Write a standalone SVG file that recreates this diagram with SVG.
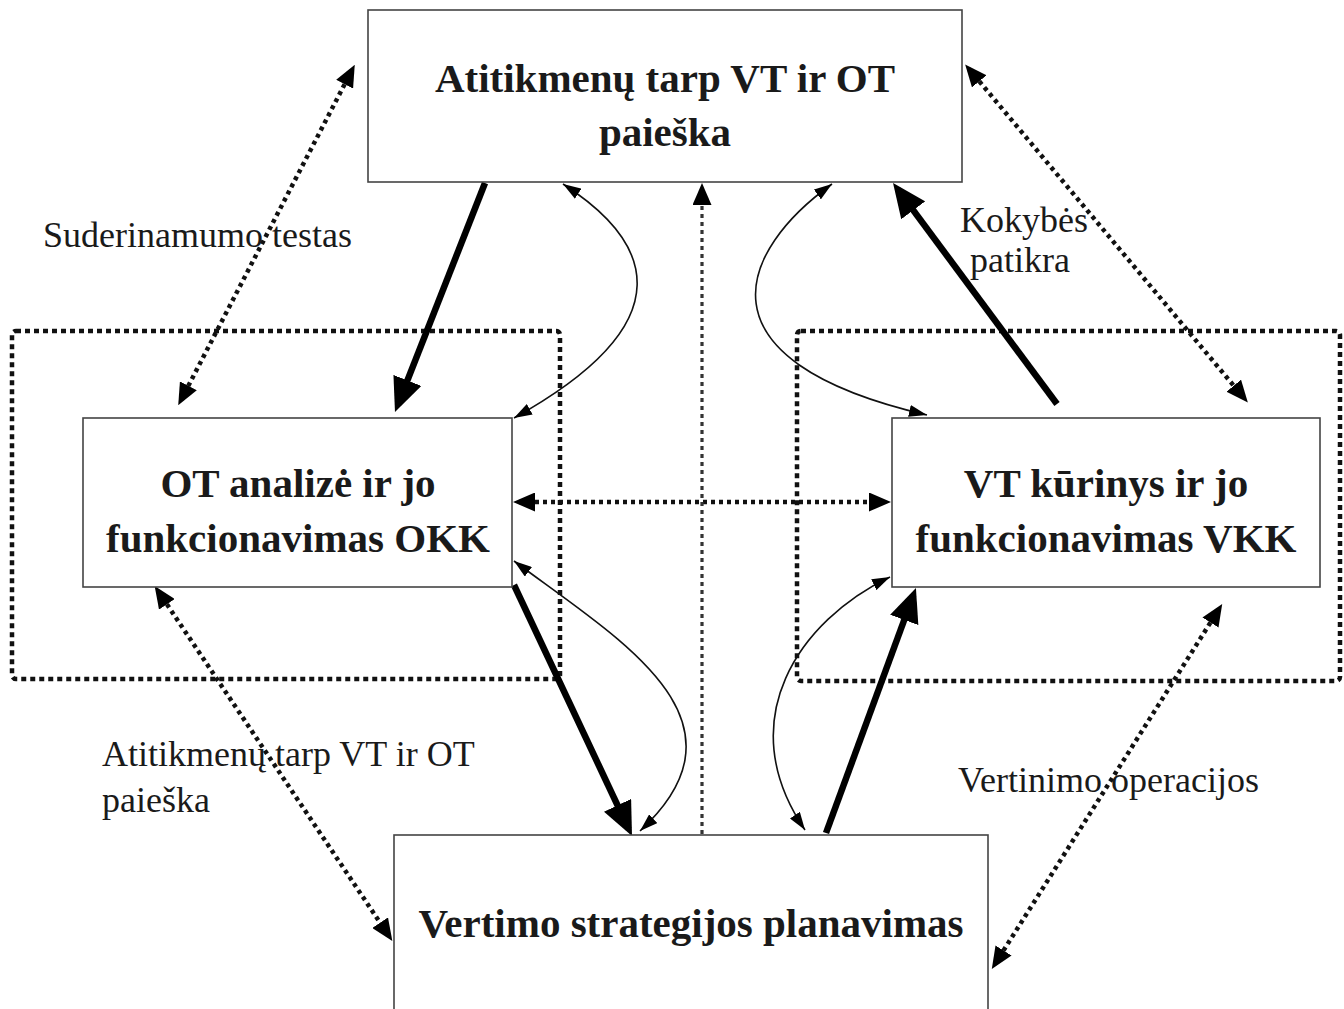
<svg xmlns="http://www.w3.org/2000/svg" width="1344" height="1009" viewBox="0 0 1344 1009">
<style>
.box{fill:#fff;stroke:#444;stroke-width:1.6}
.grp{fill:none;stroke:#111;stroke-width:4.5;stroke-dasharray:5 4}
.t{font-family:"Liberation Serif","Times New Roman",serif;font-weight:bold;font-size:41px;fill:#1a1a1a;text-anchor:middle}
.lbl{font-family:"Liberation Serif","Times New Roman",serif;font-size:36px;fill:#1a1a1a}
.thick{fill:none;stroke:#000;stroke-width:6.5}
.dot{fill:none;stroke:#111;stroke-width:4.5;stroke-dasharray:4 4}
.vdot{fill:none;stroke:#333;stroke-width:3.2;stroke-dasharray:4 4}
.thin{fill:none;stroke:#111;stroke-width:1.6}
</style>
<defs>
<marker id="big" markerUnits="userSpaceOnUse" markerWidth="34" markerHeight="30" refX="26" refY="15" orient="auto"><path d="M0,0 L34,15 L0,30 z" fill="#000"/></marker>
<marker id="sm" markerUnits="userSpaceOnUse" markerWidth="22" markerHeight="19" refX="16" refY="9.5" orient="auto-start-reverse"><path d="M0,0 L22,9.5 L0,19 z" fill="#000"/></marker>
<marker id="tn" markerUnits="userSpaceOnUse" markerWidth="18" markerHeight="12" refX="18" refY="6" orient="auto-start-reverse"><path d="M0,0 L18,6 L0,12 z" fill="#000"/></marker>
</defs>
<rect width="1344" height="1009" fill="#fff"/>
<g id="group-okk"><rect class="grp" x="12" y="331" width="548" height="348" rx="4"/></g>
<g id="group-vkk"><rect class="grp" x="797" y="331" width="543" height="350" rx="4"/></g>
<g id="connectors">
<line class="dot" x1="352" y1="70" x2="181" y2="400" marker-start="url(#sm)" marker-end="url(#sm)"/>
<line class="dot" x1="969" y1="69" x2="1244" y2="398" marker-start="url(#sm)" marker-end="url(#sm)"/>
<line class="dot" x1="158" y1="591" x2="389" y2="936" marker-start="url(#sm)" marker-end="url(#sm)"/>
<line class="dot" x1="1219" y1="609" x2="995" y2="964" marker-start="url(#sm)" marker-end="url(#sm)"/>
<line class="dot" x1="519" y1="502" x2="885" y2="502" marker-start="url(#sm)" marker-end="url(#sm)"/>
<line class="vdot" x1="702" y1="834" x2="702" y2="189" marker-end="url(#sm)"/>
<line class="thick" x1="485" y1="183" x2="397.9" y2="404.6" marker-end="url(#big)"/>
<line class="thick" x1="1057" y1="404" x2="897.8" y2="189.4" marker-end="url(#big)"/>
<line class="thick" x1="514" y1="585" x2="628.6" y2="828.8" marker-end="url(#big)"/>
<line class="thick" x1="826" y1="833" x2="913.2" y2="595.5" marker-end="url(#big)"/>
<path class="thin" d="M563,184 C650,240 690,320 514,418" marker-start="url(#tn)" marker-end="url(#tn)"/>
<path class="thin" d="M832,184 C740,250 690,360 927,415" marker-start="url(#tn)" marker-end="url(#tn)"/>
<path class="thin" d="M514,561 C620,640 760,720 640,831" marker-start="url(#tn)" marker-end="url(#tn)"/>
<path class="thin" d="M890,577 C800,620 730,720 805,830" marker-start="url(#tn)" marker-end="url(#tn)"/>
</g>
<g id="node-top"><rect class="box" x="368" y="10" width="594" height="172"/>
<text class="t" x="665" y="92">Atitikmenų tarp VT ir OT</text>
<text class="t" x="665" y="146">paieška</text></g>
<g id="node-okk"><rect class="box" x="83" y="418" width="429" height="169"/>
<text class="t" x="298" y="497">OT analizė ir jo</text>
<text class="t" x="298" y="552">funkcionavimas OKK</text></g>
<g id="node-vkk"><rect class="box" x="892" y="418" width="428" height="169"/>
<text class="t" x="1106" y="497">VT kūrinys ir jo</text>
<text class="t" x="1106" y="552">funkcionavimas VKK</text></g>
<g id="node-bottom"><rect class="box" x="394" y="835" width="594" height="180"/>
<text class="t" x="691" y="937">Vertimo strategijos planavimas</text></g>
<g id="labels">
<text class="lbl" x="43" y="247">Suderinamumo  testas</text>
<text class="lbl" x="960" y="232">Kokybės</text>
<text class="lbl" x="970" y="272">patikra</text>
<text class="lbl" x="102" y="766">Atitikmenų   tarp VT ir OT</text>
<text class="lbl" x="102" y="812">paieška</text>
<text class="lbl" x="958" y="792">Vertinimo  operacijos</text>
</g>
</svg>
